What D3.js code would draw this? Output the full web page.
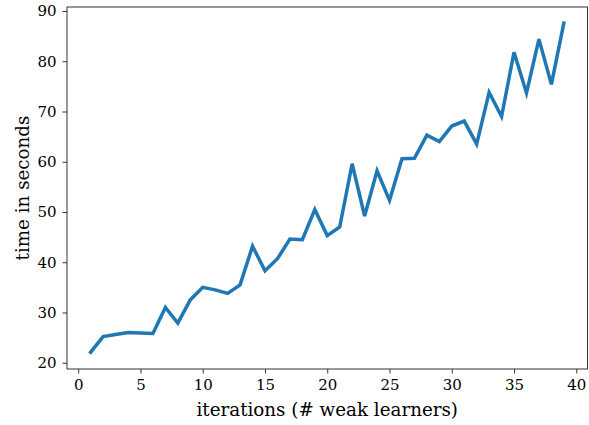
<!DOCTYPE html>
<html>
<head>
<meta charset="utf-8">
<script src="https://cdn.jsdelivr.net/npm/d3@7"></script>
<style>
  body { margin: 0; background: #fff; }
  svg { font-family: "DejaVu Serif", serif; }
</style>
</head>
<body>
<svg id="chart" width="589" height="425"></svg>
<script>
const iterations = d3.range(1, 40);
const seconds = [22.1, 25.2, 25.6, 26.0, 25.9, 25.8, 31.0, 27.9, 32.5, 35.0,
  34.5, 33.8, 35.5, 43.2, 38.3, 40.7, 44.6, 44.5, 50.5, 45.3,
  47.0, 59.6, 49.2, 58.2, 52.3, 60.6, 60.7, 65.3, 64.0, 67.1,
  68.1, 63.5, 73.8, 69.0, 81.8, 73.7, 84.4, 75.4, 87.6];
const xTicks = [0, 5, 10, 15, 20, 25, 30, 35, 40];
const yTicks = [20, 30, 40, 50, 60, 70, 80, 90];

const width = 589, height = 425;
const margin = { top: 7, right: 1.5, bottom: 56, left: 67 };

const svg = d3.select('#chart');

const x = d3.scaleLinear()
  .domain([-0.9, 40.9])
  .range([margin.left, width - margin.right]);

const y = d3.scaleLinear()
  .domain([18.75, 90.8])
  .range([height - margin.bottom, margin.top]);

const line = d3.line()
  .x((d, i) => x(iterations[i]))
  .y(d => y(d));

svg.append('path')
  .datum(seconds)
  .attr('fill', 'none')
  .attr('stroke', '#1f77b4')
  .attr('stroke-width', 3.5)
  .attr('stroke-linejoin', 'miter')
  .attr('stroke-linecap', 'square')
  .attr('d', line);

const xAxis = g => g
  .attr('transform', `translate(0,${height - margin.bottom})`)
  .call(d3.axisBottom(x).tickValues(xTicks).tickSize(4.5).tickPadding(6).tickSizeOuter(0))
  .call(g => g.select('.domain').remove());

const yAxis = g => g
  .attr('transform', `translate(${margin.left},0)`)
  .call(d3.axisLeft(y).tickValues(yTicks).tickSize(4.5).tickPadding(6).tickSizeOuter(0))
  .call(g => g.select('.domain').remove());

svg.append('g').call(xAxis)
  .attr('font-family', 'DejaVu Serif').attr('font-size', 15)
  .call(g => g.selectAll('line').attr('stroke', '#333').attr('stroke-width', 1));
svg.append('g').call(yAxis)
  .attr('font-family', 'DejaVu Serif').attr('font-size', 15)
  .call(g => g.selectAll('line').attr('stroke', '#333').attr('stroke-width', 1));

svg.append('rect')
  .attr('x', margin.left)
  .attr('y', margin.top)
  .attr('width', width - margin.left - margin.right)
  .attr('height', height - margin.top - margin.bottom)
  .attr('fill', 'none')
  .attr('stroke', '#333')
  .attr('stroke-width', 1);

svg.append('text')
  .attr('x', (margin.left + width - margin.right) / 2)
  .attr('y', 416)
  .attr('text-anchor', 'middle')
  .attr('font-size', 18.3)
  .text('iterations (# weak learners)');

svg.append('text')
  .attr('transform', `translate(28.5,${(margin.top + height - margin.bottom) / 2}) rotate(-90)`)
  .attr('text-anchor', 'middle')
  .attr('font-size', 18.3)
  .text('time in seconds');
</script>
</body>
</html>
